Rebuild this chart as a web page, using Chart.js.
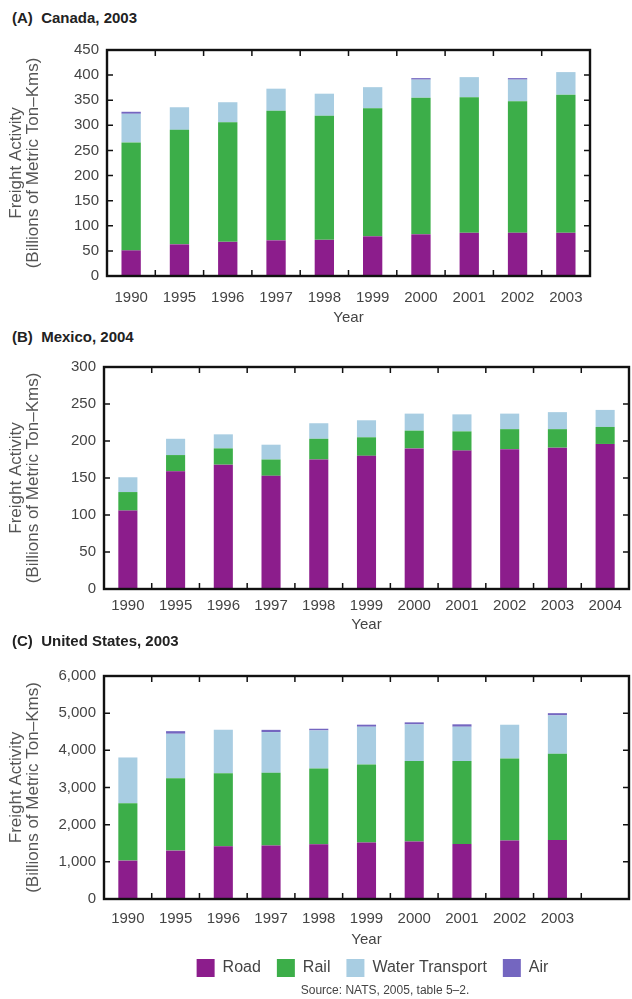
<!DOCTYPE html>
<html>
<head>
<meta charset="utf-8">
<script src="https://cdn.jsdelivr.net/npm/chart.js@4.4.1/dist/chart.umd.min.js"></script>
<style>
  body { margin: 0; background: #fff; }
  #page { position: relative; width: 632px; height: 999px; font-family: "Liberation Sans", Arial, sans-serif; }
  .panel-title { position: absolute; left: 12px; font-weight: bold; font-size: 15px; line-height: 16px; color: #222; white-space: pre; }
  canvas { position: absolute; left: 0; }
  #source { position: absolute; left: 285px; width: 200px; top: 983px; text-align: center; font-size: 12px; color: #444; }
</style>
</head>
<body>
<div id="page">
  <div class="panel-title" style="top:10px">(A)  Canada, 2003</div>
  <canvas id="canada" width="632" height="297" style="top:30px"></canvas>
  <div class="panel-title" style="top:329px">(B)  Mexico, 2004</div>
  <canvas id="mexico" width="632" height="287" style="top:347px"></canvas>
  <div class="panel-title" style="top:633px">(C)  United States, 2003</div>
  <canvas id="usa" width="632" height="343" style="top:656px"></canvas>
  <div id="source">Source: NATS, 2005, table 5–2.</div>
</div>
<script>
// values, billions of metric ton-km
const canadaYears = ['1990', '1995', '1996', '1997', '1998', '1999', '2000', '2001', '2002', '2003'];
const canadaRoad = [51, 63, 68, 71, 72, 79, 83, 86, 86, 86];
const canadaRail = [215, 228, 238, 258, 247, 255, 272, 270, 262, 275];
const canadaWater = [57, 45, 40, 44, 44, 42, 36, 40, 43, 45];
const canadaAir = [4, 0, 0, 0, 0, 0, 3, 0, 3, 0];

const mexicoYears = ['1990', '1995', '1996', '1997', '1998', '1999', '2000', '2001', '2002', '2003', '2004'];
const mexicoRoad = [106, 159, 168, 153, 175, 180, 190, 187, 189, 191, 196];
const mexicoRail = [25, 22, 22, 22, 28, 25, 24, 26, 27, 25, 23];
const mexicoWater = [20, 22, 19, 20, 21, 23, 23, 23, 21, 23, 23];
const mexicoAir = [0, 0, 0, 0, 0, 0, 0, 0, 0, 0, 0];

// last slot is left empty in the US panel
const usaYears = ['1990', '1995', '1996', '1997', '1998', '1999', '2000', '2001', '2002', '2003', ''];
const usaRoad = [1033, 1302, 1419, 1437, 1473, 1518, 1545, 1482, 1572, 1590];
const usaRail = [1545, 1950, 1967, 1958, 2039, 2102, 2165, 2228, 2210, 2317];
const usaWater = [1230, 1194, 1168, 1096, 1024, 1015, 988, 925, 907, 1033];
const usaAir = [0, 70, 0, 60, 45, 55, 55, 65, 0, 60];

const modes = ['Road', 'Rail', 'Water Transport', 'Air'];
const colors = ['#8c1d8c', '#3cae49', '#a8cde2', '#7466c0'];

const FONT = '"Liberation Sans", Arial, sans-serif';

// box round the plot and the small inward ticks on all four sides
const framePlugin = {
  id: 'frame',
  afterDatasetsDraw(chart) {
    const { ctx, chartArea: a, scales: { x, y } } = chart;
    ctx.save();
    ctx.strokeStyle = '#111';
    ctx.lineWidth = 1.5;
    ctx.beginPath();
    for (let i = 1; i < x.ticks.length; i++) {
      const px = (x.getPixelForTick(i - 1) + x.getPixelForTick(i)) / 2;
      ctx.moveTo(px, a.bottom);
      ctx.lineTo(px, a.bottom - 6);
      ctx.moveTo(px, a.top);
      ctx.lineTo(px, a.top + 6);
    }
    y.ticks.forEach((t, i) => {
      const py = y.getPixelForTick(i);
      ctx.moveTo(a.left, py);
      ctx.lineTo(a.left + 6, py);
      ctx.moveTo(a.right, py);
      ctx.lineTo(a.right - 6, py);
    });
    ctx.stroke();
    ctx.lineWidth = 2.4;
    ctx.strokeRect(a.left, a.top, a.right - a.left, a.bottom - a.top);
    ctx.restore();
  }
};

// the legend sits a little right of the plot centre in the original
const legendNudge = {
  id: 'legendNudge',
  afterLayout(chart) {
    if (chart.legend && chart.options.plugins.legend.display) {
      chart.legend.left += 6;
      chart.legend.right += 6;
    }
  }
};

function buildChart(id, labels, series, yMax, step, opt) {
  const datasets = series.map((data, i) => ({
    label: modes[i],
    data: data,
    backgroundColor: colors[i],
    borderWidth: 0,
    barPercentage: 0.4,
    categoryPercentage: 1
  }));

  return new Chart(document.getElementById(id), {
    type: 'bar',
    data: { labels: labels, datasets: datasets },
    plugins: [framePlugin, legendNudge],
    options: {
      responsive: false,
      animation: false,
      layout: { padding: { top: 20, right: opt.right, bottom: opt.bottom || 0, left: 0 } },
      plugins: {
        tooltip: { enabled: false },
        legend: {
          display: !!opt.legend,
          position: 'bottom',
          fullSize: false,
          labels: {
            boxWidth: 18,
            boxHeight: 18,
            padding: 16,
            color: '#444',
            font: { family: FONT, size: 16 }
          }
        }
      },
      scales: {
        x: {
          stacked: true,
          grid: { display: false, drawTicks: false },
          border: { display: false },
          ticks: { color: '#444', font: { family: FONT, size: 15 }, padding: opt.tickPad, maxRotation: 0, autoSkip: false },
          title: {
            display: true,
            text: 'Year',
            color: '#444',
            font: { family: FONT, size: 15 },
            padding: { top: opt.titlePad, bottom: opt.titleBottom || 0 }
          }
        },
        y: {
          stacked: true,
          min: 0,
          max: yMax,
          grid: { display: false, drawTicks: false },
          border: { display: false },
          ticks: { stepSize: step, color: '#444', font: { family: FONT, size: 15 }, padding: 8 },
          title: {
            display: true,
            text: ['Freight Activity', '(Billions of Metric Ton–Kms)'],
            color: '#555',
            font: { family: FONT, size: 17, lineHeight: 1.05 },
            padding: { top: 7, bottom: 0 }
          },
          afterFit: s => { s.width = opt.left; }
        }
      }
    }
  });
}

buildChart('canada', canadaYears, [canadaRoad, canadaRail, canadaWater, canadaAir], 450, 50,
  { left: 107, right: 42, tickPad: 13, titlePad: -11 });
buildChart('mexico', mexicoYears, [mexicoRoad, mexicoRail, mexicoWater, mexicoAir], 300, 50,
  { left: 104, right: 3, tickPad: 8, titlePad: -7 });
buildChart('usa', usaYears, [usaRoad, usaRail, usaWater, usaAir], 6000, 1000,
  { left: 104, right: 3, tickPad: 11, titlePad: -8, titleBottom: -6, legend: true, bottom: 12 });
</script>
</body>
</html>
